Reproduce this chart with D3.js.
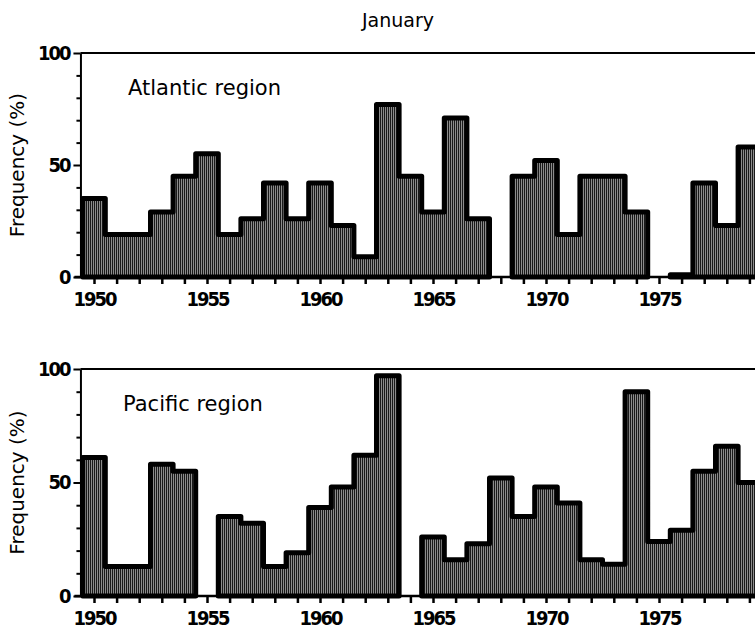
<!DOCTYPE html>
<html>
<head>
<meta charset="utf-8">
<script src="https://cdn.jsdelivr.net/npm/d3@7"></script>
<style>
  body { margin: 0; background: #fff; }
  text { font-family: "DejaVu Sans", sans-serif; fill: #000; }
  .tick text { font-family: "DejaVu Sans Condensed", "DejaVu Sans", sans-serif; font-weight: bold; }
</style>
</head>
<body>
<div id="chart"></div>
<script>
var width = 755;
var height = 634;

var years = d3.range(1950, 1980);
// null = no bar drawn that year
var atlantic = [35, 19, 19, 29, 45, 55, 19, 26, 42, 26, 42, 23, 9, 77, 45, 29, 71, 26, null, 45, 52, 19, 45, 45, 29, null, 1, 42, 23, 58];
var pacific = [61, 13, 13, 58, 55, null, 35, 32, 13, 19, 39, 48, 62, 97, null, 26, 16, 23, 52, 35, 48, 41, 16, 14, 90, 24, 29, 55, 66, 50];
var yearTicks = d3.range(1950, 1980);
var yTicks = d3.range(0, 101, 10);

var panels = [
    { name: 'Atlantic region', values: atlantic, top: 53, bottom: 277 },
    { name: 'Pacific region', values: pacific, top: 369, bottom: 596 }
];

var svg = d3.select('#chart')
    .append('svg')
    .attr('width', width)
    .attr('height', height);

var pat = svg.append('defs')
    .append('pattern')
    .attr('id', 'hatch')
    .attr('patternUnits', 'userSpaceOnUse')
    .attr('width', 2)
    .attr('height', 4);
pat.append('rect').attr('width', 2).attr('height', 4).attr('fill', '#8c8c8c');
pat.append('rect').attr('width', 1).attr('height', 4).attr('fill', '#1a1a1a');

var x = d3.scaleLinear()
    .domain([1950, 1975])
    .range([94, 659]);

var axisLeftX = x(1949.4);

svg.append('text')
    .attr('x', 398)
    .attr('y', 27)
    .attr('text-anchor', 'middle')
    .style('font-size', '19px')
    .text('January');

panels.forEach(function(p) {
    var y = d3.scaleLinear()
        .domain([0, 100])
        .range([p.bottom, p.top]);

    var g = svg.append('g');

    // split into runs of consecutive years with data
    var runs = [];
    var cur = null;
    years.forEach(function(yr, i) {
        var v = p.values[i];
        if (v === null) { cur = null; return; }
        if (!cur) { cur = []; runs.push(cur); }
        cur.push({ year: yr, value: v });
    });

    var step = d3.line()
        .x((d) => x(d.year - 0.5))
        .y((d) => y(d.value))
        .curve(d3.curveStepAfter);

    runs.forEach(function(run) {
        var pts = run.slice();
        pts.push({ year: run[run.length - 1].year + 1, value: run[run.length - 1].value });
        var top = step(pts);
        var first = run[0].year - 0.5;
        var last = run[run.length - 1].year + 0.5;
        var d = 'M' + x(first) + ',' + y(0) + 'L' + top.slice(1) + 'L' + x(last) + ',' + y(0) + 'Z';
        g.append('path')
            .attr('d', d)
            .attr('fill', 'url(#hatch)')
            .attr('stroke', '#000')
            .attr('stroke-width', 5)
            .attr('stroke-linejoin', 'round');
    });

    // frame top
    svg.append('line')
        .attr('x1', axisLeftX).attr('x2', width)
        .attr('y1', p.top).attr('y2', p.top)
        .attr('stroke', '#000').attr('stroke-width', 2);

    var xAxis = d3.axisBottom(x)
        .tickValues(yearTicks)
        .tickSize(7)
        .tickSizeOuter(0)
        .tickFormat((d) => d % 5 === 0 ? d : '');
    var gx = svg.append('g')
        .attr('transform', `translate(0, ${p.bottom})`)
        .call(xAxis);
    gx.select('.domain').remove();
    gx.append('line')
        .attr('x1', axisLeftX - 6).attr('x2', width)
        .attr('stroke', '#000').attr('stroke-width', 2.5);
    gx.selectAll('.tick line').attr('stroke-width', 2.5);
    gx.selectAll('.tick text')
        .attr('dy', '0.95em')
        .style('font-size', '20px')
        .attr('letter-spacing', '-2');

    var yAxis = d3.axisLeft(y)
        .tickValues(yTicks)
        .tickSizeOuter(0)
        .tickFormat((d) => d % 50 === 0 ? d : '');
    var gy = svg.append('g')
        .attr('transform', `translate(${axisLeftX}, 0)`)
        .call(yAxis);
    gy.select('.domain').attr('stroke-width', 2);
    gy.selectAll('.tick line')
        .attr('x2', (d) => d % 50 === 0 ? -7 : -4)
        .attr('stroke-width', 2);
    gy.selectAll('.tick text')
        .attr('x', -11)
        .style('font-size', '20px')
        .attr('letter-spacing', '-2');

    svg.append('text')
        .attr('transform', `translate(24, ${(p.top + p.bottom) / 2}) rotate(-90)`)
        .attr('text-anchor', 'middle')
        .style('font-size', '20px')
        .text('Frequency (%)');

    svg.append('text')
        .attr('x', p === panels[0] ? 128 : 123)
        .attr('y', p.top + 42)
        .style('font-size', '21px')
        .text(p.name);
});
</script>
</body>
</html>
